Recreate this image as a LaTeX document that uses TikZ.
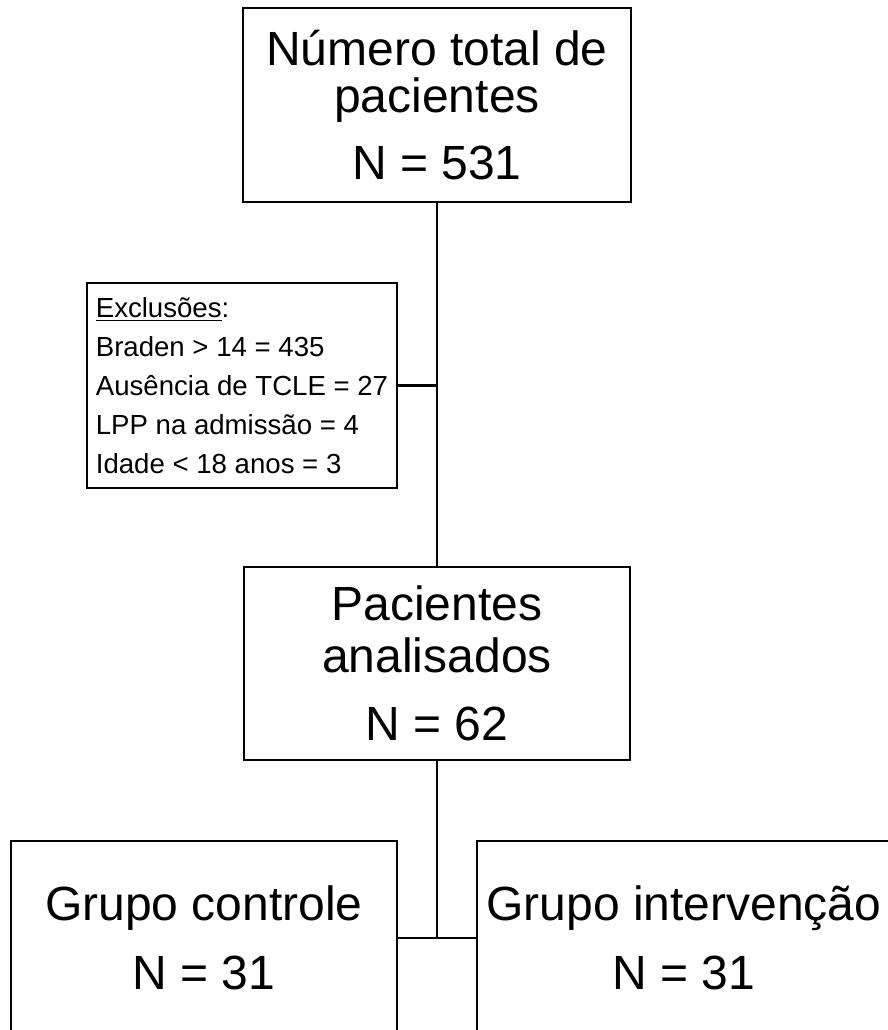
\documentclass[tikz,border=0pt]{standalone}
\usepackage{fontspec}
\setmainfont{Liberation Sans}
\newcommand\myul[1]{\setbox0\hbox{#1}\rlap{\rule[-4pt]{\wd0}{1.8pt}}\box0}
\begin{document}
\begin{tikzpicture}[x=1pt,y=-1pt,
  box/.style={draw, line width=2pt, inner sep=0pt, align=center},
  link/.style={line width=2.8pt}]
\useasboundingbox (0,0) rectangle (888,1030);
\clip (0,0) rectangle (888,1030);
\fill[white] (0,0) rectangle (888,1030);

\node[box, minimum width=388pt, minimum height=194pt,
      font=\fontsize{48}{47}\selectfont] (total) at (437,105)
  {Número total de\\pacientes\\[20pt]N = 531};

\node[box, align=left, minimum width=310pt, minimum height=205pt,
      font=\fontsize{27.6}{39}\selectfont] (excl) at (242,385.5)
  {\myul{Exclusões}:\\Braden > 14 = 435\\Ausência de TCLE = 27\\LPP na admissão = 4\\Idade < 18 anos = 3};

\node[box, minimum width=386pt, minimum height=193pt,
      font=\fontsize{48}{52}\selectfont] (anal) at (437,663.5)
  {Pacientes\\analisados\\[16pt]N = 62};

\node[box, minimum width=386pt, minimum height=194pt,
      font=\fontsize{48}{69}\selectfont] (ctrl) at (204,938)
  {Grupo controle\\N = 31};

\node[box, minimum width=414pt, minimum height=194pt,
      font=\fontsize{48}{69}\selectfont] (interv) at (684,938)
  {Grupo intervenção\\N = 31};

\coordinate (j1) at (total.south |- excl.east);
\coordinate (j2) at (anal.south |- ctrl.east);
\draw[link] (total.south) -- (anal.north);
\draw[link] (excl.east) -- (j1);
\draw[link] (anal.south) -- (j2);
\draw[link] (ctrl.east) -- (interv.west);
\end{tikzpicture}
\end{document}
